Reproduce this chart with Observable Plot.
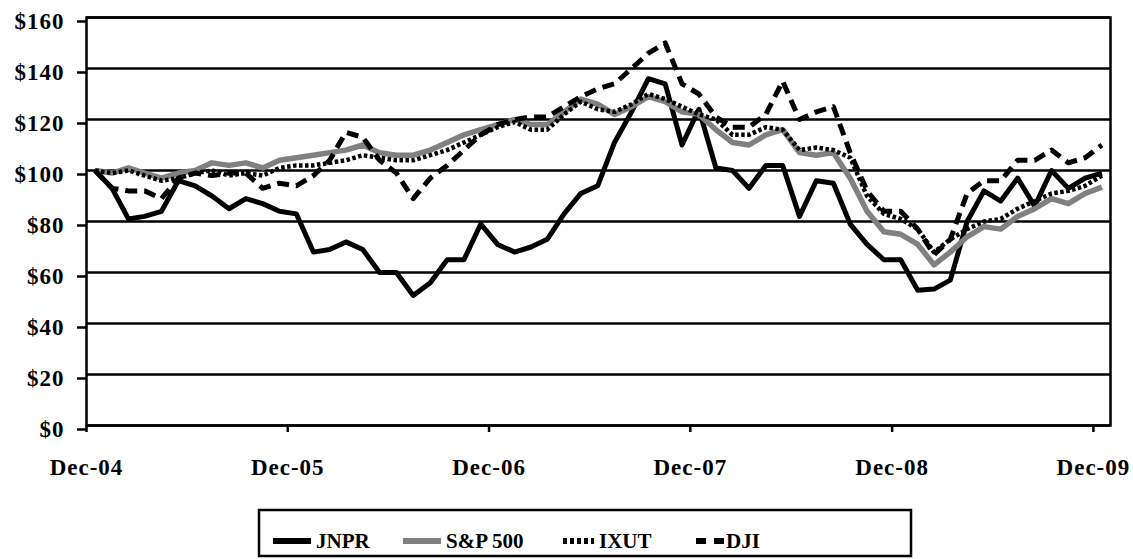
<!DOCTYPE html>
<html><head><meta charset="utf-8">
<script src="https://cdn.jsdelivr.net/npm/d3@7"></script>
<script src="https://cdn.jsdelivr.net/npm/@observablehq/plot@0.6"></script>
<style>
body{margin:0;background:#fff;}
#wrap{position:relative;width:1133px;height:559px;overflow:hidden;}
#wrap svg{position:absolute;left:0;}
</style></head><body><div id="wrap"></div>
<script>
// Tick labels
const yearLabels = ["Dec-04","Dec-05","Dec-06","Dec-07","Dec-08","Dec-09"];
const yTicks = [0,20,40,60,80,100,120,140,160];
// Monthly values, Dec-04 .. Dec-09 (61 months)
const jnpr = [100,93,81,82,84,96,94,90,85,89,87,84,83,68,69,72,69,60,60,51,56,65,65,79,71,68,70,73,83,91,94,111,123,136,134,110,124,101,100,93,102,102,82,96,95,79,71,65,65,53,53.5,57,80,92,88,97,86,100,93,97,99];
const sp500 = [100,99,101,99,97,99,100,103,102,103,101,104,105,106,107,108,110,107,106,106,108,111,114,116,118,120,118,118,123,128,126,122,125,129,127,123,122,116,111,110,114,116,107,106,107,97,84,76,75,71,63,68,74,78,77,82,85,89,87,91,93.5];
const ixut = [100,99,100,98,96,97,99,100,98,99,98,101,102,102,103,104,106,105,104,104,106,108,111,114,117,119,116,116,122,127,124,123,126,130,128,125,122,120,114,114,117,116,108,109,108,105,90,83,81,77,68,73,77,80,81,85,88,91,92,94,98];
const dji = [100,93,92,92,89,97,99,98,99,99,93,95,94,98,104,115,113,104,99,89,97,102,108,114,118,120,121,121,125,129,132,134,140,146,150,134,130,121,117,117,122,135,120,123,125,107,92,84,84,77,67,73,91,96,96,104,104,108,103,105,110];

const seriesNames = ["JNPR","S&P 500","IXUT","DJI"];
const seriesValues = [jnpr, sp500, ixut, dji];
const seriesStroke = ["black","#808080","black","black"];
const seriesWidth = [5, 5.5, 4.5, 5];
const seriesDash = [null, null, "3.5,2.5", "12,7"];

const start = new Date(Date.UTC(2004,11,1));
const end = new Date(Date.UTC(2010,0,1));
const tickDates = yearLabels.map((_, k) => d3.utcYear.offset(start, k));
// each monthly value is plotted at the middle of its month
const dates = jnpr.map((_, i) => {
  const a = d3.utcMonth.offset(start, i), b = d3.utcMonth.offset(start, i + 1);
  return new Date((+a + +b) / 2);
});

const fontFamily = "'Liberation Serif','Times New Roman',serif";

const lineMarks = seriesNames.map((name, s) =>
  Plot.lineY(seriesValues[s].map((v, i) => ({date: dates[i], value: v})), {
    x: "date", y: "value",
    stroke: seriesStroke[s], strokeWidth: seriesWidth[s],
    strokeDasharray: seriesDash[s], strokeLinejoin: "round", strokeLinecap: "butt"
  })
);

const chart = Plot.plot({
  width: 1133, height: 500,
  marginLeft: 86, marginRight: 23, marginTop: 17, marginBottom: 75,
  style: {fontFamily, fontWeight: "bold", fontSize: "23px", letterSpacing: "1px", color: "black", background: "white", overflow: "visible"},
  x: {type: "utc", domain: [start, end], label: null},
  y: {domain: [0, 160], label: null},
  marks: [
    Plot.gridY(yTicks, {stroke: "black", strokeOpacity: 1, strokeWidth: 2.5}),
    Plot.frame({stroke: "black", strokeWidth: 2.5}),
    Plot.axisY(yTicks, {tickSize: 9, tickPadding: 13, strokeWidth: 2.5, dy: 4,
      tickFormat: d => "$" + d, fontSize: 23, fontWeight: "bold", fill: "black"}),
    Plot.axisX(tickDates, {tickSize: 7, tickPadding: 26, strokeWidth: 2.5,
      tickFormat: d => yearLabels[tickDates.findIndex(t => +t === +d)],
      fontSize: 23, fontWeight: "bold", fill: "black"}),
    ...lineMarks
  ]
});
chart.style.top = "0px";
document.getElementById("wrap").appendChild(chart);

// Legend (below the chart SVG)
const legendSwatch = [[14,52],[144,182],[304,335],[437,465]];
const legendText = [57,187,340,467];
const lg = d3.create("svg").attr("width", 1133).attr("height", 59)
  .style("top", "500px");
const box = lg.append("g").attr("transform", "translate(259,10)");
box.append("rect").attr("width", 652).attr("height", 46)
  .attr("fill", "white").attr("stroke", "black").attr("stroke-width", 2.5);
seriesNames.forEach((name, s) => {
  box.append("line")
    .attr("x1", legendSwatch[s][0]).attr("x2", legendSwatch[s][1])
    .attr("y1", 31).attr("y2", 31)
    .attr("stroke", seriesStroke[s]).attr("stroke-width", 6)
    .attr("stroke-dasharray", s === 2 ? "4,3" : s === 3 ? "10,8" : null);
  box.append("text").attr("x", legendText[s]).attr("y", 38)
    .attr("font-family", fontFamily).attr("font-weight", "bold").attr("font-size", 21)
    .attr("fill", "black").text(name);
});
document.getElementById("wrap").appendChild(lg.node());
</script></body></html>
